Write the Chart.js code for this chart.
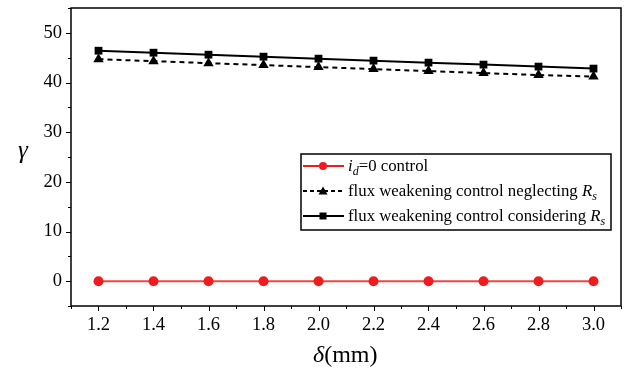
<!DOCTYPE html>
<html lang="en">
<head>
<meta charset="UTF-8">
<title>gamma vs delta</title>
<script src="https://cdn.jsdelivr.net/npm/chart.js"></script>
<style>
  html, body { margin: 0; padding: 0; background: #fff; }
  #wrap { width: 629px; height: 370px; }
</style>
</head>
<body>
<div id="wrap"><canvas id="chart"></canvas></div>
<script>
    const DELTA = [1.2, 1.4, 1.6, 1.8, 2.0, 2.2, 2.4, 2.6, 2.8, 3.0];
    const ID_ZERO = [0, 0, 0, 0, 0, 0, 0, 0, 0, 0];
    const FW_NEGLECT = [44.7, 44.3, 43.9, 43.5, 43.1, 42.7, 42.3, 41.9, 41.5, 41.2];
    const FW_CONSIDER = [46.4, 46.0, 45.6, 45.2, 44.8, 44.4, 44.0, 43.6, 43.2, 42.8];

    const SERIF = '"Liberation Serif", "DejaVu Serif", serif';
    const RED = '#ee1c1c';

    function pts(ys) {
        return DELTA.map((x, i) => ({ x: x, y: ys[i] }));
    }

    // frame, minor/major ticks, axis titles, legend
    const decor = {
        id: 'decor',
        afterDraw(chart) {
            const ctx = chart.ctx;
            const a = chart.chartArea;
            const xs = chart.scales.x, ys = chart.scales.y;
            ctx.save();
            ctx.strokeStyle = '#000';
            ctx.lineWidth = 1.5;
            ctx.strokeRect(a.left, a.top, a.right - a.left, a.bottom - a.top);

            ctx.lineWidth = 1;
            ctx.beginPath();
            for (let k = 11; k <= 31; k++) {
                const px = Math.round(xs.getPixelForValue(k / 10)) + 0.5;
                const len = k % 2 === 0 ? 5 : 3;
                ctx.moveTo(px, a.bottom);
                ctx.lineTo(px, a.bottom + len);
            }
            for (let v = -5; v <= 55; v += 5) {
                const py = Math.round(ys.getPixelForValue(v)) + 0.5;
                const len = v % 10 === 0 ? 5 : 3;
                ctx.moveTo(a.left, py);
                ctx.lineTo(a.left - len, py);
            }
            ctx.stroke();

            // x title: delta(mm)
            ctx.fillStyle = '#000';
            ctx.textBaseline = 'alphabetic';
            ctx.font = 'italic 24px ' + SERIF;
            const w1 = ctx.measureText('δ').width;
            let x0 = 313;
            ctx.fillText('δ', x0, 362);
            ctx.font = '24px ' + SERIF;
            ctx.fillText('(mm)', x0 + w1, 362);

            // y title: gamma, upright
            ctx.font = 'italic 25px ' + SERIF;
            ctx.textAlign = 'center';
            ctx.fillText('γ', 23, 158);
            ctx.textAlign = 'left';

            // legend box
            const bx = 301, by = 154, bw = 310, bh = 76;
            ctx.fillStyle = '#fff';
            ctx.fillRect(bx, by, bw, bh);
            ctx.lineWidth = 1.5;
            ctx.strokeStyle = '#000';
            ctx.strokeRect(bx, by, bw, bh);

            const rows = [
                { y: 166, color: RED, dash: [], marker: 'circle', parts: [['i', 'italic'], ['d', 'sub'], ['=0 control', '']] },
                { y: 191, color: '#000', dash: [4, 3], marker: 'triangle', parts: [['flux weakening control neglecting ', ''], ['R', 'italic'], ['s', 'sub']] },
                { y: 216, color: '#000', dash: [], marker: 'square', parts: [['flux weakening control considering ', ''], ['R', 'italic'], ['s', 'sub']] }
            ];
            rows.forEach(r => {
                ctx.strokeStyle = r.color;
                ctx.fillStyle = r.color;
                ctx.lineWidth = 2;
                ctx.setLineDash(r.dash);
                ctx.beginPath();
                ctx.moveTo(303, r.y);
                ctx.lineTo(344, r.y);
                ctx.stroke();
                ctx.setLineDash([]);
                const mx = 323;
                ctx.beginPath();
                if (r.marker === 'circle') {
                    ctx.arc(mx, r.y, 4, 0, Math.PI * 2);
                } else if (r.marker === 'triangle') {
                    ctx.moveTo(mx, r.y - 4.5);
                    ctx.lineTo(mx + 4.5, r.y + 3.5);
                    ctx.lineTo(mx - 4.5, r.y + 3.5);
                    ctx.closePath();
                } else {
                    ctx.rect(mx - 3.5, r.y - 3.5, 7, 7);
                }
                ctx.fill();

                ctx.fillStyle = '#000';
                let tx = 348;
                r.parts.forEach(p => {
                    if (p[1] === 'sub') {
                        ctx.font = 'italic 12px ' + SERIF;
                        ctx.fillText(p[0], tx, r.y + 9);
                    } else {
                        ctx.font = (p[1] === 'italic' ? 'italic ' : '') + '16.8px ' + SERIF;
                        ctx.fillText(p[0], tx, r.y + 5);
                    }
                    tx += ctx.measureText(p[0]).width;
                });
            });
            ctx.restore();
        }
    };

    const ctx = document.getElementById('chart');

    new Chart(ctx, {
        type: 'line',
        data: {
            datasets: [
                {
                    label: 'id=0 control',
                    data: pts(ID_ZERO),
                    borderColor: '#f04646',
                    backgroundColor: RED,
                    borderWidth: 2,
                    pointStyle: 'circle',
                    pointRadius: 5,
                    pointBorderWidth: 0
                },
                {
                    label: 'flux weakening control neglecting Rs',
                    data: pts(FW_NEGLECT),
                    borderColor: '#000',
                    backgroundColor: '#000',
                    borderWidth: 2,
                    borderDash: [5, 4],
                    pointStyle: 'triangle',
                    pointRadius: 6,
                    pointBorderWidth: 0
                },
                {
                    label: 'flux weakening control considering Rs',
                    data: pts(FW_CONSIDER),
                    borderColor: '#000',
                    backgroundColor: '#000',
                    borderWidth: 2,
                    pointStyle: 'rect',
                    pointRadius: 5.5,
                    pointBorderWidth: 0
                }
            ]
        },
        options: {
            responsive: true,
            maintainAspectRatio: false,
            animation: false,
            layout: { padding: { top: 8, right: 8, left: 0, bottom: 0 } },
            plugins: {
                legend: { display: false },
                tooltip: { enabled: false }
            },
            scales: {
                x: {
                    type: 'linear',
                    min: 1.1,
                    max: 3.1,
                    afterFit: s => { s.height = 64; s.paddingLeft = 0; s.paddingRight = 0; },
                    grid: { drawOnChartArea: false, drawTicks: false, display: false },
                    border: { display: false },
                    ticks: {
                        stepSize: 0.1,
                        padding: 8,
                        autoSkip: false,
                        maxRotation: 0,
                        color: '#000',
                        font: { family: SERIF, size: 18.5 },
                        callback: v => (Math.round(v * 10) % 2 === 0 ? (Math.round(v * 10) / 10).toFixed(1) : '')
                    }
                },
                y: {
                    min: -5,
                    max: 55,
                    afterFit: s => { s.width = 71; s.paddingTop = 0; s.paddingBottom = 0; },
                    grid: { drawOnChartArea: false, drawTicks: false, display: false },
                    border: { display: false },
                    ticks: {
                        stepSize: 5,
                        padding: 9,
                        autoSkip: false,
                        color: '#000',
                        font: { family: SERIF, size: 18.5 },
                        callback: v => (v % 10 === 0 ? String(v) : '')
                    }
                }
            }
        },
        plugins: [decor]
    });
</script>
</body>
</html>
